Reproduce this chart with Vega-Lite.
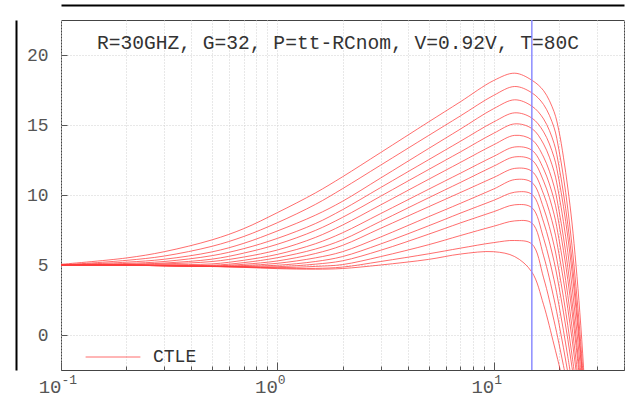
{
  "$schema": "https://vega.github.io/schema/vega-lite/v6.json",
  "width": 563,
  "height": 350,
  "autosize": {"type": "none"},
  "padding": {"left": 61, "top": 20, "right": 2, "bottom": 37},
  "background": "white",
  "title": {"text": "R=30GHZ, G=32, P=tt-RCnom, V=0.92V, T=80C", "anchor": "start", "frame": "group", "orient": "top", "offset": 0, "dx": 36, "dy": 64, "baseline": "alphabetic", "font": "Liberation Mono", "fontSize": 19.6, "fontWeight": "normal", "color": "#333333"},
  "config": {
    "view": {"stroke": "#444444", "strokeWidth": 1},
    "axis": {"labelFont": "Liberation Mono", "labelColor": "#555555", "gridColor": "#d0d0d0", "gridDash": [1, 2], "gridWidth": 1, "domain": false, "tickColor": "#555555", "title": null}
  },
  "datasets": {
    "curves": [
      {"k":14,"f":0.1,"v":5.05},{"k":14,"f":0.2,"v":5.5},{"k":14,"f":0.3,"v":5.95},{"k":14,"f":0.5,"v":6.8},{"k":14,"f":0.7,"v":7.6},{"k":14,"f":1,"v":8.74},{"k":14,"f":1.5,"v":10.15},{"k":14,"f":2,"v":11.3},{"k":14,"f":3,"v":13.03},{"k":14,"f":5,"v":15.22},{"k":14,"f":7,"v":16.65},{"k":14,"f":10,"v":18.18},{"k":14,"f":12.5,"v":18.7},{"k":14,"f":15,"v":18.2},{"k":14,"f":17,"v":17.45},{"k":14,"f":19,"v":15.95},{"k":14,"f":20,"v":14.6},{"k":14,"f":21,"v":12.7},{"k":14,"f":22,"v":10.5},{"k":14,"f":23,"v":8.0},{"k":14,"f":24,"v":5.0},{"k":14,"f":25,"v":1.6},{"k":14,"f":26,"v":-2.3},{"k":14,"f":27,"v":-7.0},
      {"k":13,"f":0.1,"v":5.0},{"k":13,"f":0.2,"v":5.33},{"k":13,"f":0.3,"v":5.64},{"k":13,"f":0.5,"v":6.34},{"k":13,"f":0.7,"v":7.04},{"k":13,"f":1,"v":8.02},{"k":13,"f":1.5,"v":9.33},{"k":13,"f":2,"v":10.45},{"k":13,"f":3,"v":12.13},{"k":13,"f":5,"v":14.25},{"k":13,"f":7,"v":15.64},{"k":13,"f":10,"v":17.12},{"k":13,"f":12.5,"v":17.75},{"k":13,"f":15,"v":17.3},{"k":13,"f":17,"v":16.46},{"k":13,"f":19,"v":14.82},{"k":13,"f":20,"v":13.24},{"k":13,"f":21,"v":11.3},{"k":13,"f":22,"v":9.0},{"k":13,"f":23,"v":6.38},{"k":13,"f":24,"v":3.46},{"k":13,"f":25,"v":0.25},{"k":13,"f":26,"v":-3.21},
      {"k":12,"f":0.1,"v":5.0},{"k":12,"f":0.2,"v":5.2},{"k":12,"f":0.3,"v":5.41},{"k":12,"f":0.5,"v":5.94},{"k":12,"f":0.7,"v":6.55},{"k":12,"f":1,"v":7.43},{"k":12,"f":1.5,"v":8.56},{"k":12,"f":2,"v":9.55},{"k":12,"f":3,"v":11.21},{"k":12,"f":5,"v":13.32},{"k":12,"f":7,"v":14.7},{"k":12,"f":10,"v":16.17},{"k":12,"f":12.5,"v":16.8},{"k":12,"f":15,"v":16.35},{"k":12,"f":17,"v":15.43},{"k":12,"f":19,"v":13.69},{"k":12,"f":20,"v":12.09},{"k":12,"f":21,"v":10.14},{"k":12,"f":22,"v":7.88},{"k":12,"f":23,"v":5.33},{"k":12,"f":24,"v":2.51},{"k":12,"f":25,"v":-0.55},{"k":12,"f":26,"v":-3.84},
      {"k":11,"f":0.1,"v":5.0},{"k":11,"f":0.2,"v":5.11},{"k":11,"f":0.3,"v":5.25},{"k":11,"f":0.5,"v":5.67},{"k":11,"f":0.7,"v":6.17},{"k":11,"f":1,"v":6.9},{"k":11,"f":1.5,"v":7.96},{"k":11,"f":2,"v":8.95},{"k":11,"f":3,"v":10.53},{"k":11,"f":5,"v":12.52},{"k":11,"f":7,"v":13.83},{"k":11,"f":10,"v":15.22},{"k":11,"f":12.5,"v":15.87},{"k":11,"f":15,"v":15.5},{"k":11,"f":17,"v":14.51},{"k":11,"f":19,"v":12.7},{"k":11,"f":20,"v":11.1},{"k":11,"f":21,"v":9.19},{"k":11,"f":22,"v":7.0},{"k":11,"f":23,"v":4.55},{"k":11,"f":24,"v":1.88},{"k":11,"f":25,"v":-0.99},{"k":11,"f":26,"v":-4.05},
      {"k":10,"f":0.1,"v":5.0},{"k":10,"f":0.2,"v":5.05},{"k":10,"f":0.3,"v":5.14},{"k":10,"f":0.5,"v":5.42},{"k":10,"f":0.7,"v":5.85},{"k":10,"f":1,"v":6.48},{"k":10,"f":1.5,"v":7.47},{"k":10,"f":2,"v":8.4},{"k":10,"f":3,"v":9.91},{"k":10,"f":5,"v":11.82},{"k":10,"f":7,"v":13.07},{"k":10,"f":10,"v":14.41},{"k":10,"f":12.5,"v":15.08},{"k":10,"f":15,"v":14.75},{"k":10,"f":17,"v":13.64},{"k":10,"f":19,"v":11.69},{"k":10,"f":20,"v":10.04},{"k":10,"f":21,"v":8.1},{"k":10,"f":22,"v":5.9},{"k":10,"f":23,"v":3.49},{"k":10,"f":24,"v":0.87},{"k":10,"f":25,"v":-1.92},{"k":10,"f":26,"v":-4.87},
      {"k":9,"f":0.1,"v":5.0},{"k":9,"f":0.2,"v":5.03},{"k":9,"f":0.3,"v":5.08},{"k":9,"f":0.5,"v":5.25},{"k":9,"f":0.7,"v":5.57},{"k":9,"f":1,"v":6.07},{"k":9,"f":1.5,"v":6.97},{"k":9,"f":2,"v":7.85},{"k":9,"f":3,"v":9.29},{"k":9,"f":5,"v":11.12},{"k":9,"f":7,"v":12.32},{"k":9,"f":10,"v":13.59},{"k":9,"f":12.5,"v":14.26},{"k":9,"f":15,"v":13.95},{"k":9,"f":17,"v":12.71},{"k":9,"f":19,"v":10.63},{"k":9,"f":20,"v":8.94},{"k":9,"f":21,"v":6.99},{"k":9,"f":22,"v":4.82},{"k":9,"f":23,"v":2.44},{"k":9,"f":24,"v":-0.09},{"k":9,"f":25,"v":-2.77},{"k":9,"f":26,"v":-5.59},
      {"k":8,"f":0.1,"v":5.0},{"k":8,"f":0.2,"v":5.0},{"k":8,"f":0.3,"v":5.02},{"k":8,"f":0.5,"v":5.08},{"k":8,"f":0.7,"v":5.34},{"k":8,"f":1,"v":5.76},{"k":8,"f":1.5,"v":6.52},{"k":8,"f":2,"v":7.3},{"k":8,"f":3,"v":8.67},{"k":8,"f":5,"v":10.41},{"k":8,"f":7,"v":11.55},{"k":8,"f":10,"v":12.76},{"k":8,"f":12.5,"v":13.43},{"k":8,"f":15,"v":13.2},{"k":8,"f":17,"v":11.86},{"k":8,"f":19,"v":9.67},{"k":8,"f":20,"v":7.98},{"k":8,"f":21,"v":6.05},{"k":8,"f":22,"v":3.94},{"k":8,"f":23,"v":1.67},{"k":8,"f":24,"v":-0.74},{"k":8,"f":25,"v":-3.27},
      {"k":7,"f":0.1,"v":5.0},{"k":7,"f":0.2,"v":4.99},{"k":7,"f":0.3,"v":4.98},{"k":7,"f":0.5,"v":4.98},{"k":7,"f":0.7,"v":5.17},{"k":7,"f":1,"v":5.52},{"k":7,"f":1.5,"v":6.14},{"k":7,"f":2,"v":6.8},{"k":7,"f":3,"v":8.12},{"k":7,"f":5,"v":9.8},{"k":7,"f":7,"v":10.89},{"k":7,"f":10,"v":12.06},{"k":7,"f":12.5,"v":12.72},{"k":7,"f":15,"v":12.5},{"k":7,"f":17,"v":10.99},{"k":7,"f":19,"v":8.63},{"k":7,"f":20,"v":6.88},{"k":7,"f":21,"v":4.94},{"k":7,"f":22,"v":2.82},{"k":7,"f":23,"v":0.58},{"k":7,"f":24,"v":-1.77},{"k":7,"f":25,"v":-4.22},
      {"k":6,"f":0.1,"v":5.0},{"k":6,"f":0.2,"v":4.98},{"k":6,"f":0.3,"v":4.95},{"k":6,"f":0.5,"v":4.93},{"k":6,"f":0.7,"v":5.05},{"k":6,"f":1,"v":5.29},{"k":6,"f":1.5,"v":5.82},{"k":6,"f":2,"v":6.4},{"k":6,"f":3,"v":7.62},{"k":6,"f":5,"v":9.16},{"k":6,"f":7,"v":10.17},{"k":6,"f":10,"v":11.25},{"k":6,"f":12.5,"v":11.9},{"k":6,"f":15,"v":11.7},{"k":6,"f":17,"v":10.06},{"k":6,"f":19,"v":7.58},{"k":6,"f":20,"v":5.83},{"k":6,"f":21,"v":3.92},{"k":6,"f":22,"v":1.88},{"k":6,"f":23,"v":-0.27},{"k":6,"f":24,"v":-2.5},{"k":6,"f":25,"v":-4.8},
      {"k":5,"f":0.1,"v":5.0},{"k":5,"f":0.2,"v":4.98},{"k":5,"f":0.3,"v":4.95},{"k":5,"f":0.5,"v":4.91},{"k":5,"f":0.7,"v":4.96},{"k":5,"f":1,"v":5.12},{"k":5,"f":1.5,"v":5.51},{"k":5,"f":2,"v":5.95},{"k":5,"f":3,"v":7.0},{"k":5,"f":5,"v":8.45},{"k":5,"f":7,"v":9.4},{"k":5,"f":10,"v":10.43},{"k":5,"f":12.5,"v":11.1},{"k":5,"f":15,"v":10.9},{"k":5,"f":17,"v":9.07},{"k":5,"f":19,"v":6.4},{"k":5,"f":20,"v":4.61},{"k":5,"f":21,"v":2.69},{"k":5,"f":22,"v":0.67},{"k":5,"f":23,"v":-1.43},{"k":5,"f":24,"v":-3.59},
      {"k":4,"f":0.1,"v":5.0},{"k":4,"f":0.2,"v":4.98},{"k":4,"f":0.3,"v":4.95},{"k":4,"f":0.5,"v":4.9},{"k":4,"f":0.7,"v":4.91},{"k":4,"f":1,"v":4.98},{"k":4,"f":1.5,"v":5.25},{"k":4,"f":2,"v":5.6},{"k":4,"f":3,"v":6.5},{"k":4,"f":5,"v":7.8},{"k":4,"f":7,"v":8.7},{"k":4,"f":10,"v":9.62},{"k":4,"f":12.5,"v":10.2},{"k":4,"f":15,"v":10.05},{"k":4,"f":17,"v":8.06},{"k":4,"f":19,"v":5.26},{"k":4,"f":20,"v":3.5},{"k":4,"f":21,"v":1.63},{"k":4,"f":22,"v":-0.31},{"k":4,"f":23,"v":-2.3},{"k":4,"f":24,"v":-4.32},
      {"k":3,"f":0.1,"v":5.0},{"k":3,"f":0.2,"v":4.98},{"k":3,"f":0.3,"v":4.95},{"k":3,"f":0.5,"v":4.9},{"k":3,"f":0.7,"v":4.88},{"k":3,"f":1,"v":4.88},{"k":3,"f":1.5,"v":5.06},{"k":3,"f":2,"v":5.3},{"k":3,"f":3,"v":6.05},{"k":3,"f":5,"v":7.2},{"k":3,"f":7,"v":8.0},{"k":3,"f":10,"v":8.81},{"k":3,"f":12.5,"v":9.3},{"k":3,"f":15,"v":9.1},{"k":3,"f":17,"v":6.91},{"k":3,"f":19,"v":3.94},{"k":3,"f":20,"v":2.17},{"k":3,"f":21,"v":0.33},{"k":3,"f":22,"v":-1.55},{"k":3,"f":23,"v":-3.46},
      {"k":2,"f":0.1,"v":5.0},{"k":2,"f":0.2,"v":4.98},{"k":2,"f":0.3,"v":4.95},{"k":2,"f":0.5,"v":4.9},{"k":2,"f":0.7,"v":4.86},{"k":2,"f":1,"v":4.81},{"k":2,"f":1.5,"v":4.9},{"k":2,"f":2,"v":5.03},{"k":2,"f":3,"v":5.6},{"k":2,"f":5,"v":6.45},{"k":2,"f":7,"v":7.1},{"k":2,"f":10,"v":7.77},{"k":2,"f":12.5,"v":8.15},{"k":2,"f":15,"v":8.0},{"k":2,"f":17,"v":5.65},{"k":2,"f":19,"v":2.57},{"k":2,"f":20,"v":0.85},{"k":2,"f":21,"v":-0.91},{"k":2,"f":22,"v":-2.68},{"k":2,"f":23,"v":-4.45},
      {"k":1,"f":0.1,"v":5.0},{"k":1,"f":0.2,"v":4.98},{"k":1,"f":0.3,"v":4.95},{"k":1,"f":0.5,"v":4.9},{"k":1,"f":0.7,"v":4.85},{"k":1,"f":1,"v":4.78},{"k":1,"f":1.5,"v":4.76},{"k":1,"f":2,"v":4.85},{"k":1,"f":3,"v":5.25},{"k":1,"f":5,"v":5.8},{"k":1,"f":7,"v":6.2},{"k":1,"f":10,"v":6.6},{"k":1,"f":12.5,"v":6.75},{"k":1,"f":15,"v":6.5},{"k":1,"f":17,"v":4.08},{"k":1,"f":19,"v":1.02},{"k":1,"f":20,"v":-0.58},{"k":1,"f":21,"v":-2.18},{"k":1,"f":22,"v":-3.77},
      {"k":0,"f":0.1,"v":5.0},{"k":0,"f":0.2,"v":4.98},{"k":0,"f":0.3,"v":4.95},{"k":0,"f":0.5,"v":4.89},{"k":0,"f":0.7,"v":4.83},{"k":0,"f":1,"v":4.74},{"k":0,"f":1.5,"v":4.7},{"k":0,"f":2,"v":4.75},{"k":0,"f":3,"v":5.0},{"k":0,"f":5,"v":5.4},{"k":0,"f":7,"v":5.78},{"k":0,"f":10,"v":5.95},{"k":0,"f":12.5,"v":5.6},{"k":0,"f":15,"v":4.5},{"k":0,"f":17,"v":2.16},{"k":0,"f":19,"v":-0.71},{"k":0,"f":20,"v":-2.09},{"k":0,"f":21,"v":-3.45}
    ],
    "marker": [{"f": 15}]
  },
  "layer": [
    {
      "data": {"name": "curves"},
      "mark": {"type": "line", "clip": true, "interpolate": "catmull-rom", "strokeWidth": 1, "opacity": 0.75},
      "encoding": {
        "x": {"field": "f", "type": "quantitative",
          "scale": {"type": "log", "domain": [0.1, 40], "nice": false},
          "axis": {"values": [0.1,0.2,0.3,0.4,0.5,0.6,0.7,0.8,0.9,1,2,3,4,5,6,7,8,9,10,20,30,40],
            "grid": true, "ticks": true,
            "tickSize": {"condition": {"test": "datum.value == 0.1 || datum.value == 1 || datum.value == 10", "value": -8}, "value": -4},
            "labelExpr": "datum.value == 0.1 || datum.value == 1 || datum.value == 10 ? '10' : ''",
            "labelFontSize": 19, "labelAlign": "right", "labelDx": 2, "labelBaseline": "alphabetic", "labelPadding": 30, "labelFlush": false, "labelOverlap": false}},
        "y": {"field": "v", "type": "quantitative",
          "scale": {"domain": [-2.5, 22.5], "nice": false, "zero": false},
          "axis": {"values": [0, 5, 10, 15, 20], "grid": true, "ticks": true, "tickSize": -6,
            "labelFontSize": 18, "labelPadding": 19, "labelBaseline": "middle"}},
        "detail": {"field": "k"},
        "color": {"datum": "CTLE", "scale": {"range": ["#ff3c3c"]},
          "legend": {"orient": "none", "legendX": 24, "legendY": 309, "title": null, "symbolType": "stroke", "symbolSize": 3000, "symbolStrokeWidth": 1, "symbolOpacity": 0.75, "labelFont": "Liberation Mono", "labelFontSize": 18, "labelColor": "#333333", "labelOffset": 12, "padding": 0}}
      }
    },
    {
      "data": {"name": "marker"},
      "mark": {"type": "rule", "color": "#8c8cff", "strokeWidth": 1.5},
      "encoding": {
        "x": {"field": "f", "type": "quantitative",
          "axis": {"orient": "bottom", "values": [0.1, 1, 10], "grid": false, "ticks": false, "domain": false,
            "labelExpr": "datum.value == 0.1 ? '-1' : (datum.value == 1 ? '0' : '1')",
            "labelFontSize": 13, "labelAlign": "left", "labelDx": 2, "labelBaseline": "alphabetic", "labelPadding": 13, "labelFlush": false, "labelOverlap": false}}
      }
    },
    {
      "data": {"name": "marker"},
      "mark": {"type": "rule", "opacity": 0},
      "encoding": {
        "x": {"field": "f", "type": "quantitative",
          "axis": {"orient": "top", "offset": 15, "domain": true, "domainColor": "#000000", "domainWidth": 2, "labels": false, "ticks": false, "grid": false}},
        "y": {"datum": 0, "type": "quantitative",
          "axis": {"orient": "left", "offset": 45, "domain": true, "domainColor": "#000000", "domainWidth": 2, "labels": false, "ticks": false, "grid": false}}
      }
    }
  ],
  "resolve": {"axis": {"x": "independent", "y": "independent"}}
}
